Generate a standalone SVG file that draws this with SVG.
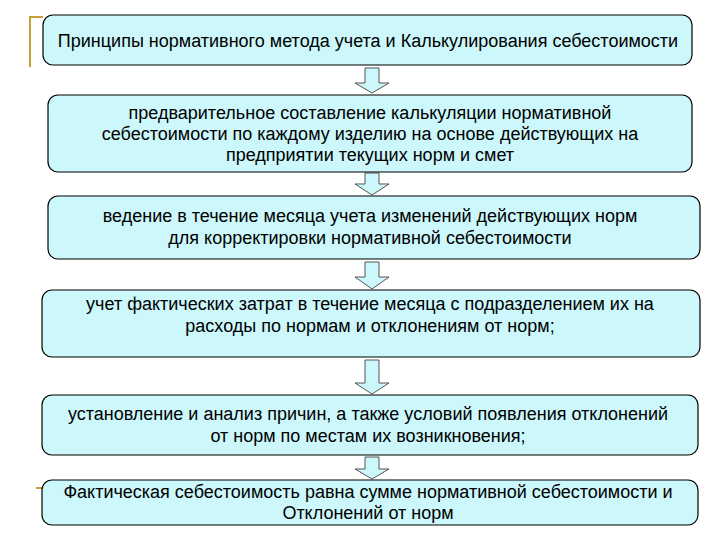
<svg xmlns="http://www.w3.org/2000/svg" width="720" height="540" viewBox="0 0 720 540">
<style>
.box{fill:#ccf7fb;stroke:#000;stroke-width:1.2}
.t{font-family:"Liberation Sans",Arial,sans-serif;font-size:18px;fill:#000;text-anchor:middle}
.arr{fill:#ccf7fb;stroke:#555;stroke-width:1}
.gold{stroke:#c8a032;stroke-width:2;fill:none}
</style>
<rect width="720" height="540" fill="#fff"/>
<path class="gold" d="M30,67 V17 H43"/>
<path class="gold" d="M36,488 H42" stroke-width="1.5"/>
<g id="connectors">
<path class="arr" d="M365,68 H379 V83 H389 L372,93 L355,83 H365 Z"/>
<path class="arr" d="M365,173 H379 V184 H389 L372,195 L355,184 H365 Z"/>
<path class="arr" d="M365,262 H379 V277 H389 L372,289 L355,277 H365 Z"/>
<path class="arr" d="M365,360 H379 V383 H389 L372,394 L355,383 H365 Z"/>
<path class="arr" d="M365,457 H379 V469 H389 L372,479 L355,469 H365 Z"/>
</g>
<g id="n1"><rect class="box" x="43" y="15" width="649" height="50" rx="10"/>
<text class="t" x="368" y="47">Принципы нормативного метода учета и Калькулирования себестоимости</text></g>
<g id="n2"><rect class="box" x="48" y="95" width="644" height="77" rx="10"/>
<text class="t" x="370" y="119">предварительное составление калькуляции нормативной</text>
<text class="t" x="370" y="140">себестоимости по каждому изделию на основе действующих на</text>
<text class="t" x="370" y="161">предприятии текущих норм и смет</text></g>
<g id="n3"><rect class="box" x="48" y="196" width="652" height="63" rx="10"/>
<text class="t" x="370" y="222">ведение в течение месяца учета изменений действующих норм</text>
<text class="t" x="370" y="244">для корректировки нормативной себестоимости</text></g>
<g id="n4"><rect class="box" x="42" y="290" width="658" height="67" rx="10"/>
<text class="t" x="370" y="310">учет фактических затрат в течение месяца с подразделением их на</text>
<text class="t" x="370" y="332">расходы по нормам и отклонениям от норм;</text></g>
<g id="n5"><rect class="box" x="42" y="395" width="656" height="60" rx="10"/>
<text class="t" x="368" y="420">установление и анализ причин, а также условий появления отклонений</text>
<text class="t" x="368" y="442">от норм по местам их возникновения;</text></g>
<g id="n6"><rect class="box" x="42" y="480" width="656" height="45" rx="10"/>
<text class="t" x="368" y="498">Фактическая себестоимость равна сумме нормативной себестоимости и</text>
<text class="t" x="368" y="519">Отклонений от норм</text></g>
</svg>
